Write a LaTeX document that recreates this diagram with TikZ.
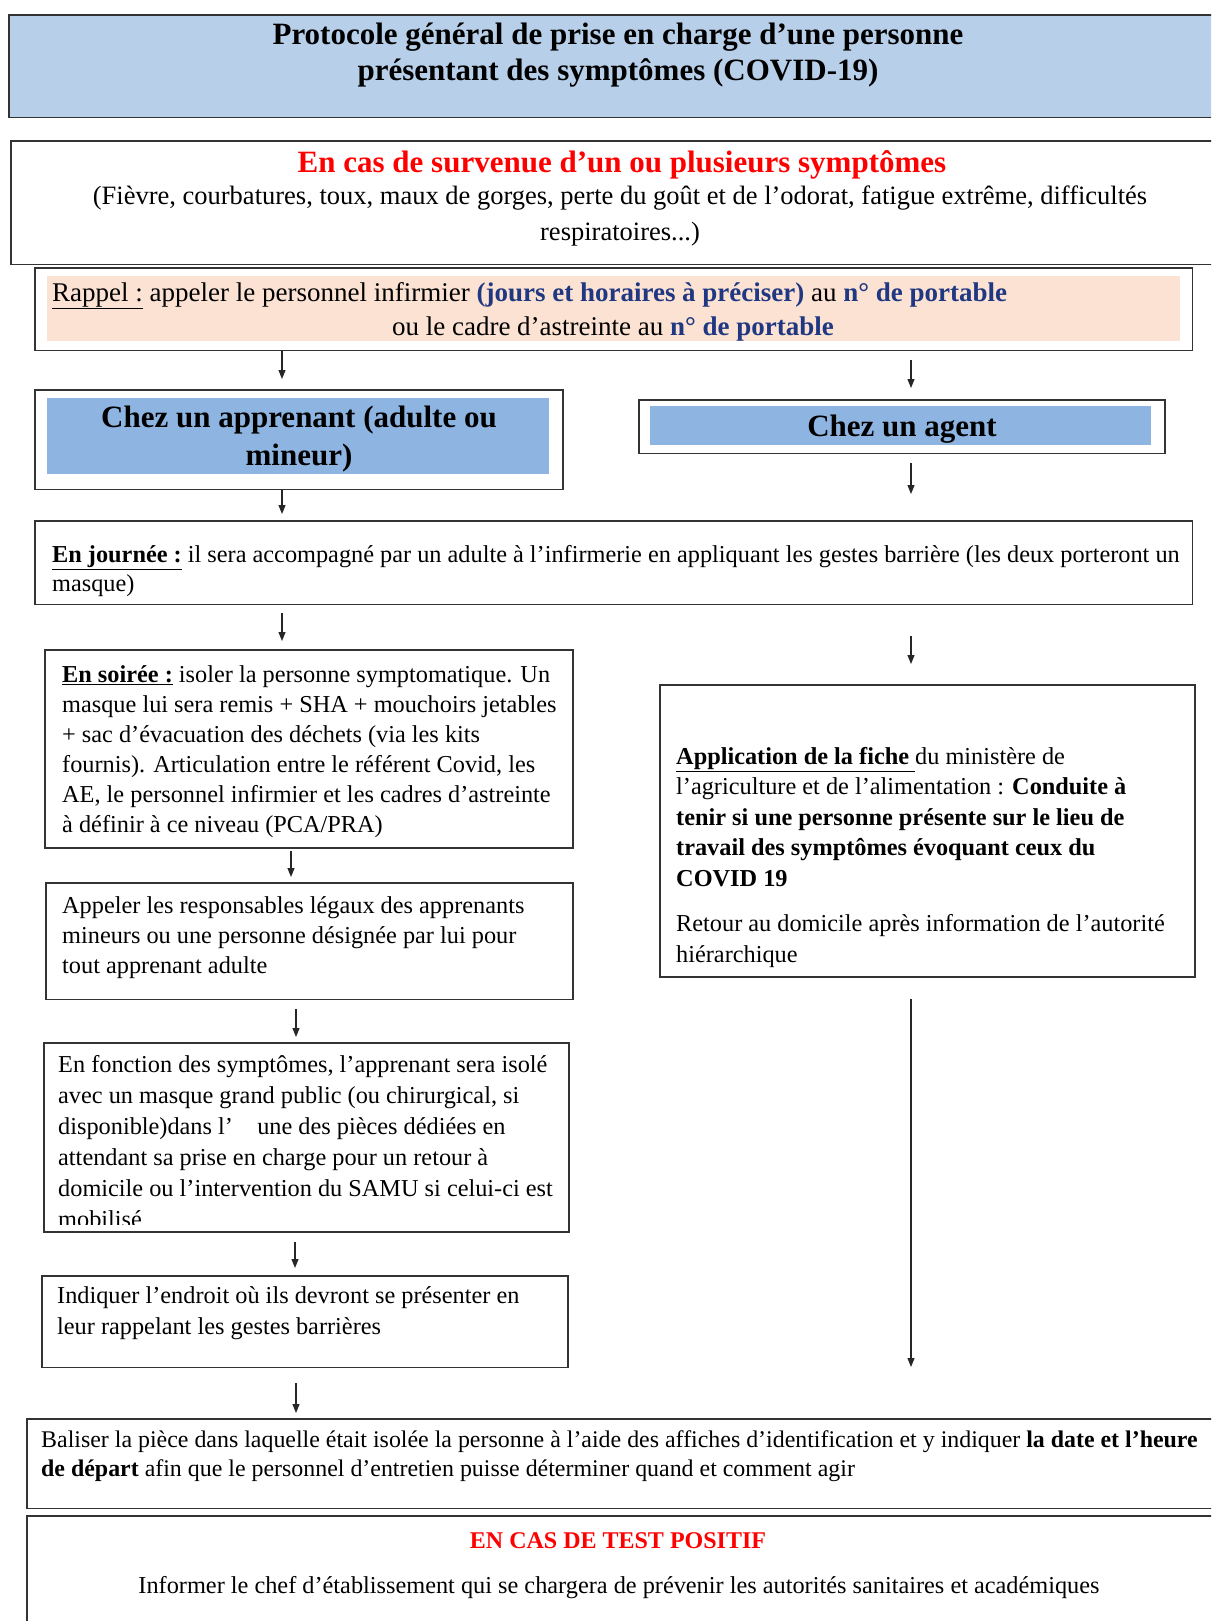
\documentclass[tikz,border=0pt]{standalone}
\usepackage{fontspec}
\setmainfont{Liberation Serif}
\usetikzlibrary{arrows.meta}
\definecolor{titleblue}{RGB}{184,207,233}
\definecolor{cellblue}{RGB}{142,180,226}
\definecolor{peach}{RGB}{251,226,211}
\definecolor{linkblue}{RGB}{32,56,130}
\definecolor{alertred}{RGB}{255,0,0}
\newcommand{\fs}[2]{\fontsize{#1bp}{#2bp}\selectfont}
\newcommand{\bluetext}[1]{\textcolor{linkblue}{\textbf{#1}}}
\begin{document}
\begin{tikzpicture}[x=1bp,y=-1bp,
  frame/.style={draw=black!80, line width=1.6bp, inner sep=0, anchor=north west},
  band/.style={fill=#1, draw=none, inner sep=0, anchor=north west},
  txt/.style={inner sep=0, align=left, anchor=north west},
  ctxt/.style={inner sep=0, align=center, anchor=north},
  arr/.style={draw=black!85, line width=1.1bp, -{Triangle[length=9bp,width=7bp]}},
  ]
\clip (0,0) rectangle (1211,1621);
\fill[white] (0,0) rectangle (1211,1621);

% ---------- boxes ----------
\node[frame, fill=titleblue, minimum width=1212, minimum height=103] (title) at (8,14) {};
\node[frame, minimum width=1210, minimum height=124] (symp) at (10,140) {};
\node[frame, minimum width=1162, minimum height=83] (rappel) at (34,267) {};
\node[band=peach, minimum width=1137, minimum height=65] (rappelin) at (47,276) {};
\node[frame, minimum width=530, minimum height=100] (appr) at (34,389) {};
\node[band=cellblue, minimum width=504, minimum height=76] (apprin) at (47,398) {};
\node[frame, minimum width=528, minimum height=54] (agent) at (638,399) {};
\node[band=cellblue, minimum width=503, minimum height=39] (agentin) at (650,406) {};
\node[frame, minimum width=1162, minimum height=84] (journee) at (34,520) {};
\node[frame, minimum width=530, minimum height=199] (soiree) at (44,649) {};
\node[frame, minimum width=529, minimum height=117] (appeler) at (45,882) {};
\node[frame, minimum width=527, minimum height=190] (fonction) at (43,1042) {};
\node[frame, minimum width=528, minimum height=92] (indiquer) at (41,1275) {};
\node[frame, minimum width=537, minimum height=293] (appli) at (659,684) {};
\node[frame, minimum width=1194, minimum height=90] (baliser) at (26,1418) {};
\node[frame, minimum width=1194, minimum height=120] (positif) at (26,1515) {};

% ---------- texts ----------
\node[ctxt, font=\fs{31}{36}\bfseries] (titleT) at (618,18.8)
  {\strut Protocole général de prise en charge d’une personne\\ présentant des symptômes (COVID-19)};
\node[inner sep=0, anchor=base, font=\fs{31}{36}\bfseries, text=alertred] (sympT) at (622,172)
  {En cas de survenue d’un ou plusieurs symptômes};
\node[ctxt, font=\fs{26.5}{36}] (sympL) at (620,178.8)
  {\strut(Fièvre, courbatures, toux, maux de gorges, perte du goût et de l’odorat, fatigue extrême, difficultés\\ respiratoires...)};
\node[inner sep=0, anchor=base west, font=\fs{27}{34}] (rapL1) at (52,301)
  {\underline{Rappel :} appeler le personnel infirmier \bluetext{(jours et horaires à préciser)} au \bluetext{n° de portable}};
\node[inner sep=0, anchor=base, font=\fs{27}{34}] (rapL2) at (613,335)
  {ou le cadre d’astreinte au \bluetext{n° de portable}};
\node[ctxt, font=\fs{31}{38}\bfseries] (apprT) at (299,400.4)
  {\strut Chez un apprenant (adulte ou\\ mineur)};
\node[inner sep=0, anchor=base, font=\fs{31}{38}\bfseries] (agentT) at (902,436) {Chez un agent};
\node[txt, font=\fs{24.3}{29}] (journeeT) at (52,541.7)
  {\strut\underline{\textbf{En journée :}} il sera accompagné par un adulte à l’infirmerie en appliquant les gestes barrière (les deux porteront un\\ masque)};
\node[txt, font=\fs{24.3}{30}] (soireeT) at (62,661)
  {\strut\underline{\textbf{En soirée :}} isoler la personne symptomatique. Un\\
   masque lui sera remis + SHA + mouchoirs jetables\\
   + sac d’évacuation des déchets (via les kits\\
   fournis). Articulation entre le référent Covid, les\\
   AE, le personnel infirmier et les cadres d’astreinte\\
   à définir à ce niveau (PCA/PRA)};
\node[txt, font=\fs{24.3}{30}] (appelerT) at (62,892)
  {\strut Appeler les responsables légaux des apprenants\\
   mineurs ou une personne désignée par lui pour\\
   tout apprenant adulte};
\begin{scope}
\clip (44,1043) rectangle (569,1224);
\node[txt, font=\fs{24.3}{31}] (fonctionT) at (58,1050.3)
  {\strut En fonction des symptômes, l’apprenant sera isolé\\
   avec un masque grand public (ou chirurgical, si\\
   disponible)dans l’\quad une des pièces dédiées en\\
   attendant sa prise en charge pour un retour à\\
   domicile ou l’intervention du SAMU si celui-ci est\\
   mobilisé};
\end{scope}
\node[txt, font=\fs{24.3}{31}] (indiquerT) at (57,1281.3)
  {\strut Indiquer l’endroit où ils devront se présenter en\\
   leur rappelant les gestes barrières};
\node[txt, font=\fs{24.3}{30.5}] (appliT) at (676,742.6)
  {\strut\textbf{\underline{Application de la fiche }}du ministère de\\
   l’agriculture et de l’alimentation : \textbf{Conduite à}\\
   \textbf{tenir si une personne présente sur le lieu de}\\
   \textbf{travail des symptômes évoquant ceux du}\\
   \textbf{COVID 19}\\[15bp]
   Retour au domicile après information de l’autorité\\
   hiérarchique};
\node[txt, font=\fs{23.9}{29}] (baliserT) at (41,1426.7)
  {\strut Baliser la pièce dans laquelle était isolée la personne à l’aide des affiches d’identification et y indiquer \textbf{la date et l’heure}\\
   \textbf{de départ} afin que le personnel d’entretien puisse déterminer quand et comment agir};
\node[inner sep=0, anchor=base, font=\fs{24}{30}\bfseries, text=alertred] (positifT) at (618,1548)
  {EN CAS DE TEST POSITIF};
\node[inner sep=0, anchor=base, font=\fs{24.3}{30}] (informerT) at (619,1593)
  {Informer le chef d’établissement qui se chargera de prévenir les autorités sanitaires et académiques};

% ---------- connectors ----------
\coordinate (xa) at (282,0);
\coordinate (xb) at (911,0);
\coordinate (xc) at (291,0);
\coordinate (xd) at (296,0);
\coordinate (xe) at (295,0);
\draw[arr, shorten >=10bp] (rappel.south -| xa) -- (appr.north -| xa);
\draw[arr, shorten <=9bp, shorten >=11bp] (rappel.south -| xb) -- (agent.north -| xb);
\draw[arr, shorten >=6bp] (appr.south -| xa) -- (journee.north -| xa);
\draw[arr, shorten <=9bp, shorten >=26bp] (agent.south -| xb) -- (journee.north -| xb);
\draw[arr, shorten <=8bp, shorten >=8bp] (journee.south -| xa) -- (soiree.north -| xa);
\draw[arr, shorten <=31bp, shorten >=20bp] (journee.south -| xb) -- (appli.north -| xb);
\draw[arr, shorten <=2bp, shorten >=5bp] (soiree.south -| xc) -- (appeler.north -| xc);
\draw[arr, shorten <=9bp, shorten >=5bp] (appeler.south -| xd) -- (fonction.north -| xd);
\draw[arr, shorten <=9bp, shorten >=7bp] (fonction.south -| xe) -- (indiquer.north -| xe);
\draw[arr, shorten <=15bp, shorten >=5bp] (indiquer.south -| xd) -- (baliser.north -| xd);
\draw[arr, shorten <=21bp, shorten >=51bp] (appli.south -| xb) -- (baliser.north -| xb);
\end{tikzpicture}
\end{document}
